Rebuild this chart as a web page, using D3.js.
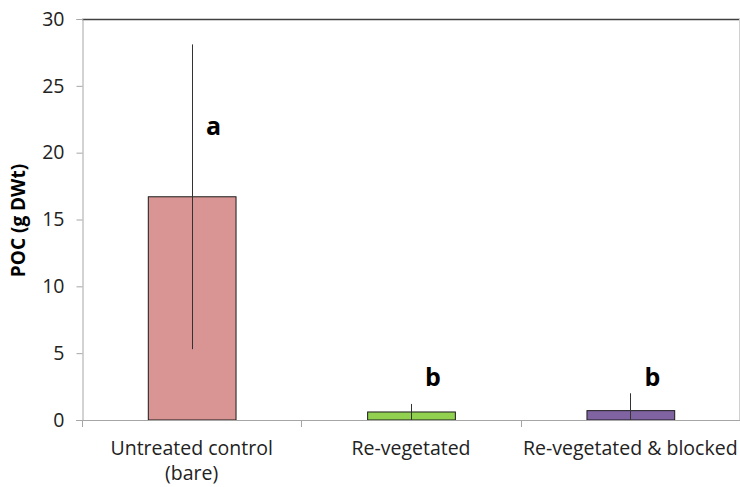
<!DOCTYPE html>
<html><head><meta charset="utf-8">
<script src="https://cdn.jsdelivr.net/npm/d3@7"></script>
<style>body{margin:0;background:#fff}svg{display:block}</style>
</head><body><svg id="c" width="740" height="487"></svg>
<script>
const categories = [["Untreated control", "(bare)"], ["Re-vegetated"], ["Re-vegetated & blocked"]];
const values = [16.7, 0.6, 0.7];
const errors = [11.4, 0.6, 1.3];
const letters = ["a", "b", "b"];
const yTicks = [0, 5, 10, 15, 20, 25, 30];
const colors = ["#d99594", "#92d050", "#8064a2"];

const svg = d3.select("#c");
const L = 82, R = 740, T = 19, B = 420;
const x = d3.scaleBand().domain(d3.range(categories.length)).range([L, R]).padding(0);
const y = d3.scaleLinear().domain([0, 30]).range([B, T]);
const font = "'Open Sans', sans-serif";

// top border and right border
svg.append("line").attr("x1", L).attr("x2", R).attr("y1", T + 0.5).attr("y2", T + 0.5).attr("stroke", "#404040").attr("stroke-width", 1.5);
svg.append("line").attr("x1", R - 0.5).attr("x2", R - 0.5).attr("y1", T).attr("y2", B).attr("stroke", "#d0d0d0");

// y axis
const yAxis = svg.append("g").attr("transform", `translate(${L + 0.5},0)`)
  .call(d3.axisLeft(y).tickValues(yTicks).tickSize(6).tickPadding(12));
yAxis.select(".domain").attr("stroke", "#a6a6a6");
yAxis.selectAll(".tick line").attr("stroke", "#a6a6a6");
yAxis.selectAll("text").attr("font-family", font).attr("font-size", 19.5).attr("fill", "#222");

// bars
const bw = x.bandwidth() * 0.4;
const g = svg.append("g");
g.selectAll("rect").data(values).join("rect")
  .attr("x", (d, i) => x(i) + x.bandwidth() / 2 - bw / 2 + 0.5)
  .attr("y", d => y(d))
  .attr("width", bw)
  .attr("height", d => B - y(d))
  .attr("fill", (d, i) => colors[i])
  .attr("stroke", "#1a1a1a").attr("stroke-width", 1);

// error bars
g.selectAll("line.err").data(values).join("line").attr("class", "err")
  .attr("x1", (d, i) => Math.round(x(i) + x.bandwidth() / 2) + 0.5)
  .attr("x2", (d, i) => Math.round(x(i) + x.bandwidth() / 2) + 0.5)
  .attr("y1", (d, i) => y(d + errors[i]))
  .attr("y2", (d, i) => y(Math.max(0, d - errors[i])))
  .attr("stroke", "#333").attr("stroke-width", 1);

// x axis
const xAxisG = svg.append("g");
xAxisG.append("line").attr("x1", 76).attr("x2", R).attr("y1", B + 0.5).attr("y2", B + 0.5).attr("stroke", "#a6a6a6");
const bounds = d3.range(categories.length).map(i => x(i));
xAxisG.selectAll("line.t").data(bounds).join("line").attr("class", "t")
  .attr("x1", d => Math.round(d) + 0.5).attr("x2", d => Math.round(d) + 0.5)
  .attr("y1", B).attr("y2", B + 7).attr("stroke", "#a6a6a6");

// category labels
categories.forEach((lines, i) => {
  const t = svg.append("text").attr("font-family", font).attr("font-size", 19.5).attr("fill", "#222")
    .attr("text-anchor", "middle");
  lines.forEach((s, k) => {
    t.append("tspan").attr("x", x(i) + x.bandwidth() / 2).attr("y", 455 + k * 25).text(s);
  });
});

// significance letters
svg.selectAll("text.sig").data(values).join("text").attr("class", "sig")
  .attr("x", (d, i) => x(i) + x.bandwidth() / 2 + 22)
  .attr("y", (d, i) => i === 0 ? 135 : 386)
  .attr("text-anchor", "middle")
  .attr("font-family", font).attr("font-weight", "bold").attr("font-size", 25).attr("fill", "#000")
  .text((d, i) => letters[i]);

// y title
svg.append("text").attr("transform", `translate(25,${(T + B) / 2 + 1}) rotate(-90)`)
  .attr("text-anchor", "middle").attr("font-family", font).attr("font-weight", "bold")
  .attr("font-size", 19).attr("fill", "#000").text("POC (g DWt)");
</script></body></html>
